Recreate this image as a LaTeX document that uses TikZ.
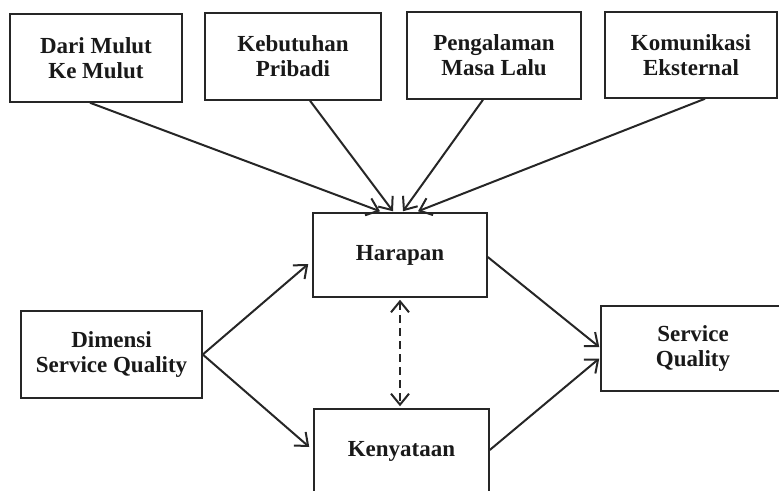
\documentclass[tikz,border=0pt]{standalone}
\usepackage{fontspec}
\setmainfont{Liberation Serif}
\usetikzlibrary{arrows.meta,calc}
\tikzset{
  box/.style={draw=black!85, line width=1.5pt, align=center, inner sep=0pt,
    font=\fontsize{23}{25}\selectfont\bfseries, text=black!90},
  arr/.style={line width=2pt, draw=black!85, -{Straight Barb[length=11pt,width=18pt,line width=2pt]}},
  darr/.style={line width=2pt, draw=black!85, dash pattern=on 8pt off 5pt,
    {Straight Barb[length=11pt,width=18pt,line width=2pt]}-{Straight Barb[length=11pt,width=18pt,line width=2pt]}}
}
\begin{document}
\begin{tikzpicture}[x=1pt,y=-1pt]
\useasboundingbox (0,0) rectangle (779,490);
\node[box, minimum width=172pt, minimum height=88pt] (A) at (96,58) {Dari Mulut\\Ke Mulut};
\node[box, minimum width=176pt, minimum height=87pt] (B) at (293,56.5) {Kebutuhan\\Pribadi};
\node[box, minimum width=174pt, minimum height=87pt] (C) at (494,55.5) {Pengalaman\\Masa Lalu};
\node[box, minimum width=172pt, minimum height=86pt] (D) at (691,55) {Komunikasi\\Eksternal};
\node[box, minimum width=174pt, minimum height=84pt] (H) at (400,255) {Harapan};
\node[box, minimum width=175pt, minimum height=84pt] (K) at (401.5,451) {Kenyataan};
\node[box, minimum width=181pt, minimum height=87pt] (S) at (111.5,354.5) {Dimensi\\Service Quality};
\node[box, minimum width=184pt, minimum height=85pt] (Q) at (693,348.5) {Service\\Quality};

\draw[arr] ([shift={(-6,0)}]A.south) -- ([shift={(-20,-1)}]H.north);
\draw[arr] ([shift={(17,0)}]B.south) -- ([shift={(-7,-1)}]H.north);
\draw[arr] ([shift={(-11,0)}]C.south) -- ([shift={(3,-1)}]H.north);
\draw[arr] ([shift={(14,0)}]D.south) -- ([shift={(18,-1)}]H.north);
\draw[arr] (S.east) -- ([shift={(-4,9)}]H.west);
\draw[arr] (S.east) -- ([shift={(-4,-4)}]K.west);
\draw[arr] ([shift={(0,2)}]H.east) -- ([shift={(-1,-1.5)}]Q.west);
\draw[arr] ([shift={(0,-1)}]K.east) -- ([shift={(-1,10)}]Q.west);
\draw[darr] ([shift={(0,2)}]H.south) -- ([shift={(-1.5,-2)}]K.north);
\end{tikzpicture}
\end{document}
